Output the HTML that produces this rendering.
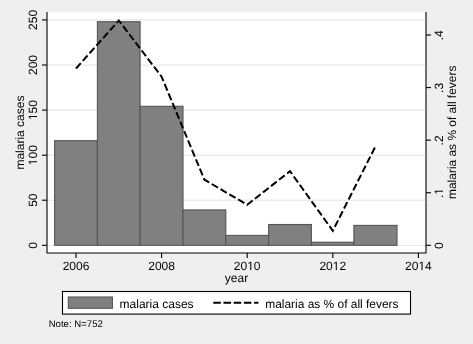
<!DOCTYPE html>
<html><head><meta charset="utf-8">
<style>
html,body{margin:0;padding:0;background:#efefef;}
body{width:473px;height:344px;overflow:hidden;}
svg{display:block;will-change:transform;}
text{font-family:"Liberation Sans", sans-serif;fill:#000;text-rendering:geometricPrecision;}
</style></head>
<body>
<svg width="473" height="344" viewBox="0 0 473 344">
<rect x="0" y="0" width="473" height="344" fill="#efefef"/>
<rect x="47" y="12" width="379" height="241" fill="#ffffff"/>
<g stroke="#e2e2e2" stroke-width="1">
<line x1="48" x2="425" y1="19.90" y2="19.90"/>
<line x1="48" x2="425" y1="65.00" y2="65.00"/>
<line x1="48" x2="425" y1="110.10" y2="110.10"/>
<line x1="48" x2="425" y1="155.20" y2="155.20"/>
<line x1="48" x2="425" y1="200.20" y2="200.20"/>
<line x1="48" x2="425" y1="245.30" y2="245.30"/>
</g>
<g fill="#808080" stroke="#555" stroke-width="1.1">
<rect x="54.6" y="140.7" width="42.8" height="104.6"/>
<rect x="97.4" y="21.7" width="42.7" height="223.6"/>
<rect x="140.1" y="106.3" width="42.9" height="139.0"/>
<rect x="183.0" y="209.9" width="42.8" height="35.4"/>
<rect x="225.8" y="235.4" width="42.8" height="9.9"/>
<rect x="268.6" y="224.5" width="42.8" height="20.8"/>
<rect x="311.4" y="242.2" width="42.5" height="3.1"/>
<rect x="353.9" y="225.4" width="43.1" height="19.9"/>
</g>
<polyline fill="none" stroke="#000" stroke-width="2" stroke-dasharray="7.2 3" points="76,68.5 118.8,20.5 161.6,76.7 204.4,179.7 247.2,204.8 290,171.2 332.8,230.8 375.7,145.9"/>
<g stroke="#000" stroke-width="1.1" fill="none">
<path d="M47,12 V253 H426 V12" stroke-linejoin="round"/>
<line x1="42" x2="47" y1="19.90" y2="19.90"/>
<line x1="42" x2="47" y1="65.00" y2="65.00"/>
<line x1="42" x2="47" y1="110.10" y2="110.10"/>
<line x1="42" x2="47" y1="155.20" y2="155.20"/>
<line x1="42" x2="47" y1="200.20" y2="200.20"/>
<line x1="42" x2="47" y1="245.30" y2="245.30"/>
<line x1="426" x2="431" y1="35.00" y2="35.00"/>
<line x1="426" x2="431" y1="87.58" y2="87.58"/>
<line x1="426" x2="431" y1="140.15" y2="140.15"/>
<line x1="426" x2="431" y1="192.73" y2="192.73"/>
<line x1="426" x2="431" y1="245.30" y2="245.30"/>
<line x1="76.0" x2="76.0" y1="253" y2="258"/>
<line x1="161.6" x2="161.6" y1="253" y2="258"/>
<line x1="247.2" x2="247.2" y1="253" y2="258"/>
<line x1="332.8" x2="332.8" y1="253" y2="258"/>
<line x1="418.4" x2="418.4" y1="253" y2="258"/>
</g>
<g font-size="12.0" text-anchor="middle">
<g transform="translate(37,19.9) rotate(-90)"><text x="0" y="0">250</text></g>
<g transform="translate(37,65.0) rotate(-90)"><text x="0" y="0">200</text></g>
<g transform="translate(37,110.1) rotate(-90)"><text x="0" y="0">150</text><rect x="-9.78" y="-1.02" width="2.76" height="1.40" fill="#efefef"/><rect x="-5.91" y="-1.02" width="2.75" height="1.40" fill="#efefef"/></g>
<g transform="translate(37,155.2) rotate(-90)"><text x="0" y="0">100</text><rect x="-9.78" y="-1.02" width="2.76" height="1.40" fill="#efefef"/><rect x="-5.91" y="-1.02" width="2.75" height="1.40" fill="#efefef"/></g>
<g transform="translate(37,200.2) rotate(-90)"><text x="0" y="0">50</text></g>
<g transform="translate(37,245.3) rotate(-90)"><text x="0" y="0">0</text></g>
<g transform="translate(443,35.3) rotate(-90)"><text x="0" y="0">.4</text></g>
<g transform="translate(443,87.88) rotate(-90)"><text x="0" y="0">.3</text></g>
<g transform="translate(443,140.45) rotate(-90)"><text x="0" y="0">.2</text></g>
<g transform="translate(443,193.03) rotate(-90)"><text x="0" y="0">.1</text><rect x="-1.44" y="-1.02" width="2.76" height="1.40" fill="#efefef"/><rect x="2.43" y="-1.02" width="2.75" height="1.40" fill="#efefef"/></g>
<g transform="translate(443,245.6) rotate(-90)"><text x="0" y="0">0</text></g>
<text x="76.0" y="270">2006</text>
<text x="161.6" y="270">2008</text>
<text x="247.2" y="270">2010</text><rect x="247.43" y="268.98" width="2.76" height="1.40" fill="#efefef"/><rect x="251.30" y="268.98" width="2.75" height="1.40" fill="#efefef"/>
<text x="332.8" y="270">2012</text><rect x="333.03" y="268.98" width="2.76" height="1.40" fill="#efefef"/><rect x="336.90" y="268.98" width="2.75" height="1.40" fill="#efefef"/>
<text x="418.4" y="270">2014</text><rect x="418.63" y="268.98" width="2.76" height="1.40" fill="#efefef"/><rect x="422.50" y="268.98" width="2.75" height="1.40" fill="#efefef"/>
<text x="236.5" y="282">year</text>
<text transform="translate(24,132.6) rotate(-90)">malaria cases</text>
<text transform="translate(456,132.3) rotate(-90)" font-size="11.95">malaria as % of all fevers</text>
</g>
<rect x="62.5" y="291.5" width="348" height="22.6" fill="#fff" stroke="#000" stroke-width="1.1"/>
<rect x="68.3" y="297.0" width="44.1" height="11.3" fill="#808080" stroke="#555" stroke-width="1.1"/>
<text x="119.6" y="308" font-size="12">malaria cases</text>
<line x1="213.3" x2="258.4" y1="302.7" y2="302.7" stroke="#000" stroke-width="2" stroke-dasharray="7.5 2.7"/>
<text x="265.2" y="308" font-size="11.95">malaria as % of all fevers</text>
<text x="48.7" y="327.4" font-size="9.6">Note: N=752</text>
</svg>
</body></html>
